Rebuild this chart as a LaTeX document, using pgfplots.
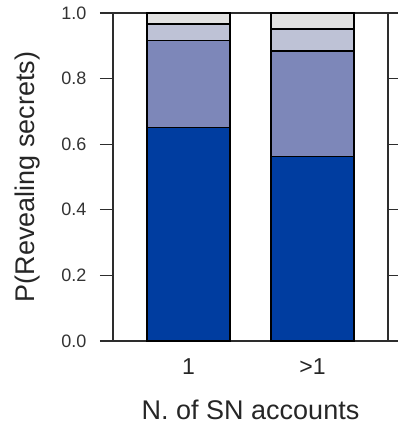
\documentclass[border=0pt]{standalone}
\usepackage{pgfplots}
\pgfplotsset{compat=1.18}
\usepackage{fontspec}
\setmainfont{Liberation Sans}

\definecolor{shareA}{RGB}{0,61,160}
\definecolor{shareB}{RGB}{125,135,185}
\definecolor{shareC}{RGB}{190,194,214}
\definecolor{shareD}{RGB}{225,225,225}
\definecolor{framegray}{RGB}{45,45,45}

\begin{document}
\begin{tikzpicture}
\useasboundingbox (0pt,0pt) rectangle (398pt,425pt);
\clip (0pt,0pt) rectangle (398pt,425pt);
\begin{axis}[
  at={(113pt,84pt)}, anchor=south west,
  scale only axis, width=275pt, height=328pt,
  xmin=-0.609, xmax=1.609, ymin=0, ymax=1,
  ybar stacked, bar width=83pt,
  axis line style={framegray, line width=1.3pt},
  xtick={0,1}, xticklabels={1,>1},
  xtick style={draw=none}, x tick label style={anchor=base, yshift=-21pt,
    font=\fontsize{23}{23}\selectfont, text=black!85},
  ytick={0,0.2,...,1.0}, ytick pos=both, yticklabel pos=left,
  tick align=outside, major tick length=13pt,
  ytick style={framegray, line width=1.3pt},
  y tick label style={anchor=east, xshift=-10pt, font=\fontsize{18}{18}\selectfont, text=black!80,
    /pgf/number format/.cd, fixed, fixed zerofill, precision=1, assume math mode=true},
  every axis x label/.style={at={(rel axis cs:0.5,0)}, yshift=-78pt, anchor=base,
    font=\fontsize{27}{27}\selectfont, text=black!85},
  every axis y label/.style={at={(rel axis cs:0,0.5)}, xshift=-78pt, rotate=90, anchor=base,
    font=\fontsize{27}{27}\selectfont, text=black!85},
  xlabel={N. of SN accounts},
  ylabel={P(Revealing secrets)},
  clip=false,
  every axis plot/.append style={draw=black, line width=1.3pt},
]
% share of users in each disclosure level, per number of accounts
\addplot[fill=shareA] coordinates {(0,0.650) (1,0.562)};
\addplot[fill=shareB] coordinates {(0,0.267) (1,0.322)};
\addplot[fill=shareC] coordinates {(0,0.049) (1,0.067)};
\addplot[fill=shareD] coordinates {(0,0.034) (1,0.049)};
% frame continues into the neighbouring panel
\draw[framegray, line width=1.3pt] (rel axis cs:1,0) -- ++(30pt,0pt);
\draw[framegray, line width=1.3pt] (rel axis cs:1,1) -- ++(30pt,0pt);
\end{axis}
\end{tikzpicture}
\end{document}
